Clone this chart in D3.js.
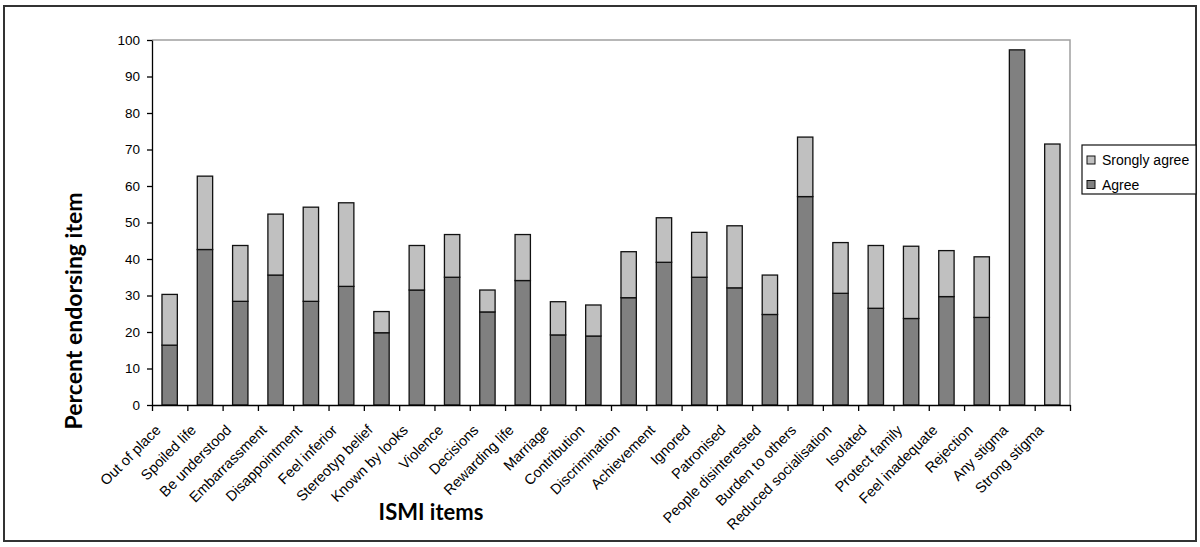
<!DOCTYPE html>
<html>
<head>
<meta charset="utf-8">
<script src="https://cdn.jsdelivr.net/npm/d3@7"></script>
<style>
  body { margin: 0; background: #fff; }
  svg { display: block; }
  .tick text { font-family: "Liberation Sans", Arial, sans-serif; }
</style>
</head>
<body>
<svg id="chart" width="1200" height="547"></svg>
<script>
// ISMI items
const categories = [
  'Out of place', 'Spoiled life', 'Be understood', 'Embarrassment', 'Disappointment',
  'Feel inferior', 'Stereotyp belief', 'Known by looks', 'Violence', 'Decisions',
  'Rewarding life', 'Marriage', 'Contribution', 'Discrimination', 'Achievement',
  'Ignored', 'Patronised', 'People disinterested', 'Burden to others',
  'Reduced socialisation', 'Isolated', 'Protect family', 'Feel inadequate',
  'Rejection', 'Any stigma', 'Strong stigma'
];
const agree = [
  16.4, 42.6, 28.4, 35.6, 28.4, 32.5, 19.8, 31.5, 35.0, 25.5,
  34.1, 19.2, 18.9, 29.4, 39.1, 35.0, 32.1, 24.8, 57.1,
  30.6, 26.5, 23.7, 29.7, 24.0, 97.3, 0
];
const stronglyAgree = [
  13.9, 20.1, 15.3, 16.7, 25.8, 22.9, 5.8, 12.2, 11.7, 6.0,
  12.6, 9.1, 8.5, 12.6, 12.2, 12.3, 17.0, 10.8, 16.3,
  13.9, 17.2, 19.8, 12.6, 16.6, 0, 71.5
];
const yTicks = [0, 10, 20, 30, 40, 50, 60, 70, 80, 90, 100];

const seriesKeys = ['agree', 'strong'];
const seriesNames = { agree: 'Agree', strong: 'Srongly agree' };
const colors = { agree: '#808080', strong: '#c0c0c0' };

const rows = categories.map((c, i) => ({ cat: c, agree: agree[i], strong: stronglyAgree[i] }));

const svg = d3.select('#chart');
const plotL = 152, plotR = 1070, plotT = 40, plotB = 405;

// outer frame
svg.append('rect')
  .attr('x', 4).attr('y', 6).attr('width', 1192).attr('height', 535)
  .attr('fill', 'none').attr('stroke', '#333').attr('stroke-width', 2);

const x = d3.scaleBand().domain(categories).range([plotL, plotR])
  .paddingInner(0.565).paddingOuter(0.2825);
const y = d3.scaleLinear().domain([0, 100]).range([plotB, plotT]);

// plot area border (top/right grey)
svg.append('path')
  .attr('d', `M${plotL},${plotT}H${plotR}V${plotB}`)
  .attr('fill', 'none').attr('stroke', '#a0a0a0').attr('stroke-width', 1.5);

const stack = d3.stack().keys(seriesKeys)(rows);

svg.append('g').selectAll('g')
  .data(stack)
  .join('g')
  .attr('fill', d => colors[d.key])
  .selectAll('rect')
  .data(d => d.filter(p => p[1] - p[0] > 0))
  .join('rect')
  .attr('x', d => x(d.data.cat))
  .attr('width', x.bandwidth())
  .attr('y', d => y(d[1]))
  .attr('height', d => y(d[0]) - y(d[1]))
  .attr('stroke', '#111')
  .attr('stroke-width', 1.3);

// y axis
const yAxis = svg.append('g')
  .attr('transform', `translate(${plotL},0)`)
  .call(d3.axisLeft(y).tickValues(yTicks).tickSize(5).tickPadding(7).tickSizeOuter(0));
yAxis.selectAll('text').attr('font-size', 13.5).attr('fill', '#000');
yAxis.selectAll('line, path').attr('stroke', '#000').attr('stroke-width', 1.3);

// x axis: ticks at category boundaries
const xb = d3.scaleLinear().domain([0, categories.length]).range([plotL, plotR]);
const xAxis = svg.append('g')
  .attr('transform', `translate(0,${plotB})`)
  .call(d3.axisBottom(xb).tickValues(d3.range(categories.length + 1))
    .tickSize(6).tickSizeOuter(0).tickFormat(''));
xAxis.selectAll('line, path').attr('stroke', '#000').attr('stroke-width', 1.3);

// rotated category labels
svg.append('g').selectAll('text')
  .data(categories)
  .join('text')
  .attr('transform', d => `translate(${x(d) + x.bandwidth() / 2 - 8},${plotB + 26}) rotate(-45)`)
  .attr('text-anchor', 'end')
  .attr('font-family', '"Liberation Sans", Arial, sans-serif')
  .attr('font-size', 14.5)
  .text(d => d);

// axis titles
svg.append('text')
  .attr('transform', `translate(82,311) rotate(-90)`)
  .attr('text-anchor', 'middle')
  .attr('font-family', 'Lato, "Open Sans", sans-serif')
  .attr('font-weight', 'bold')
  .attr('font-size', 23)
  .text('Percent endorsing item');

svg.append('text')
  .attr('x', 431).attr('y', 520)
  .attr('text-anchor', 'middle')
  .attr('font-family', 'Lato, "Open Sans", sans-serif')
  .attr('font-weight', 'bold')
  .attr('font-size', 22)
  .text('ISMI items');

// legend
const legend = svg.append('g');
legend.append('rect')
  .attr('x', 1082).attr('y', 145).attr('width', 114).attr('height', 49)
  .attr('fill', '#fff').attr('stroke', '#111').attr('stroke-width', 1.2);
const legendItems = legend.selectAll('g.item')
  .data(['strong', 'agree'])
  .join('g')
  .attr('class', 'item')
  .attr('transform', (d, i) => `translate(1087,${156 + i * 24.5})`);
legendItems.append('rect')
  .attr('width', 8).attr('height', 8)
  .attr('fill', d => colors[d]).attr('stroke', '#111').attr('stroke-width', 1);
legendItems.append('text')
  .attr('x', 15).attr('y', 9)
  .attr('font-family', '"Liberation Sans", Arial, sans-serif')
  .attr('font-size', 14)
  .text(d => seriesNames[d]);
</script>
</body>
</html>
